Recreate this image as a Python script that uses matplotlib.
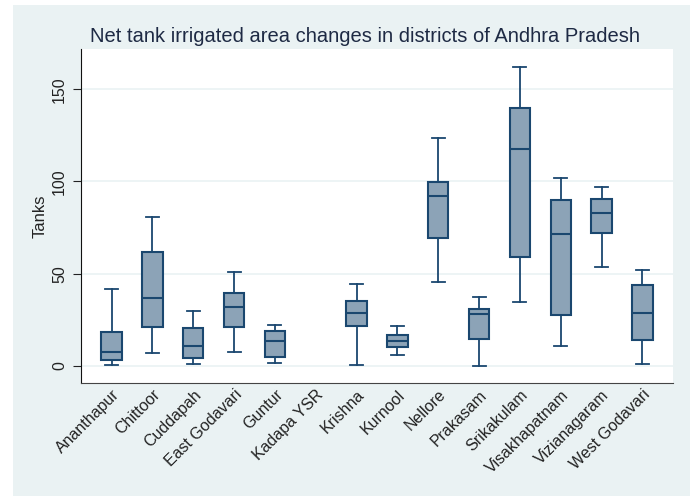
import matplotlib.pyplot as plt
import matplotlib.patches as mpatches

plt.rcParams['font.family'] = ['Liberation Sans', 'DejaVu Sans']

# box plot summary values (Kadapa YSR has no data)
districts = ["Ananthapur", "Chittoor", "Cuddapah", "East Godavari", "Guntur",
             "Kadapa YSR", "Krishna", "Kurnool", "Nellore", "Prakasam",
             "Srikakulam", "Visakhapatnam", "Vizianagaram", "West Godavari"]
whislo = [0.7, 7.2, 0.9, 7.8, 1.8, None, 0.5, 6.1, 45.4, 0.2, 34.9, 11.0, 53.7, 1.1]
q1 = [3.3, 21.0, 4.2, 21.1, 4.9, None, 21.5, 10.1, 69.2, 14.5, 59.1, 27.6, 72.3, 14.1]
med = [7.6, 37.0, 10.8, 32.2, 13.7, None, 28.5, 13.7, 92.0, 28.0, 117.4, 71.4, 82.9, 28.7]
q3 = [18.4, 62.0, 20.8, 39.6, 18.8, None, 35.4, 17.0, 99.6, 30.9, 139.7, 90.0, 90.7, 44.1]
whishi = [41.9, 80.8, 29.6, 50.8, 22.4, None, 44.6, 21.7, 123.6, 37.4, 162.0, 101.9, 97.0, 51.9]

navy = '#1a476f'
fill = '#8ca3b7'
bg = '#eaf2f3'

fig = plt.figure(figsize=(6.9, 4.96), dpi=100)
fig.patches.append(mpatches.Rectangle((13 / 690, 0), 1, 491 / 496, transform=fig.transFigure,
                                      facecolor=bg, edgecolor='none', zorder=-10))
ax = fig.add_axes([81 / 690, 1 - 383 / 496, 592 / 690, 334 / 496])

stats, pos = [], []
for i, name in enumerate(districts):
    if med[i] is None:
        continue
    stats.append(dict(label=name, whislo=whislo[i], q1=q1[i], med=med[i],
                      q3=q3[i], whishi=whishi[i], fliers=[]))
    pos.append(i)

ax.bxp(stats, positions=pos, widths=0.5, patch_artist=True, showfliers=False,
       boxprops=dict(facecolor=fill, edgecolor=navy, linewidth=1.5),
       medianprops=dict(color=navy, linewidth=1.5),
       whiskerprops=dict(color=navy, linewidth=1.3),
       capprops=dict(color=navy, linewidth=1.3), capwidths=0.32)

ax.set_xlim(-0.75, len(districts) - 0.25)
ax.set_ylim(-9.2, 171.8)
ax.set_xticks(range(len(districts)))
ax.set_xticklabels(districts, rotation=45, ha='right', rotation_mode='anchor',
                   fontsize=11.5, color='#222222')
ax.tick_params(axis='x', length=0, pad=3)
ax.set_yticks([0, 50, 100, 150])
ax.set_yticklabels(['0', '50', '100', '150'], rotation=90, va='center',
                   fontsize=11.5, color='#222222')
ax.tick_params(axis='y', length=6, width=0.8, color='#222222', pad=4)
ax.yaxis.grid(True, color=bg, linewidth=1.2)
ax.set_axisbelow(True)
ax.set_ylabel("Tanks", fontsize=12, color='#222222', labelpad=3)
for side in ['top', 'right']:
    ax.spines[side].set_visible(False)
ax.spines['left'].set_color('#111111')
ax.spines['bottom'].set_color('#444444')

fig.text(365 / 690, 1 - 36 / 496, "Net tank irrigated area changes in districts of Andhra Pradesh",
         ha='center', va='center', fontsize=14.5, color='#1e2a44')

fig.savefig('out.png', dpi=100)
